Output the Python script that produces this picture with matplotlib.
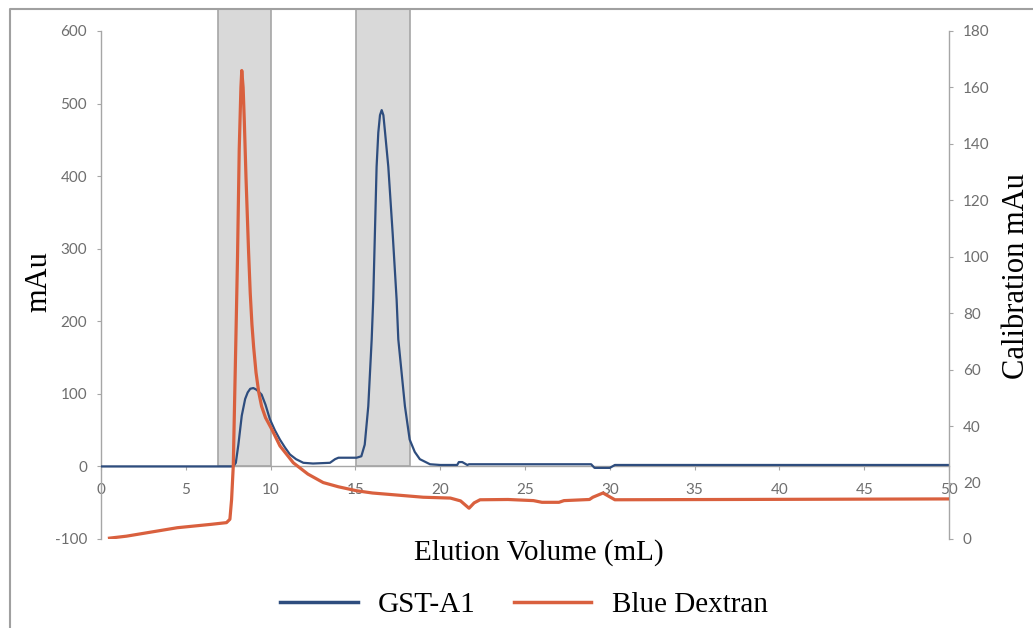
import matplotlib.pyplot as plt
from matplotlib.lines import Line2D

plt.rcParams["axes.unicode_minus"] = False

# GST-A1 (left axis, mAu)
gst_vol = [0, 7.8, 7.95, 8.1, 8.3, 8.5, 8.65, 8.8, 8.98, 9.15, 9.3, 9.47, 9.7,
           9.96, 10.25, 10.55, 10.85, 11.14, 11.5, 11.93, 12.5, 13.5, 13.8, 14.0,
           15.07, 15.35, 15.55, 15.76, 15.96, 16.05, 16.25, 16.35, 16.45, 16.55,
           16.65, 16.75, 16.94, 17.2, 17.43, 17.53, 17.92, 18.2, 18.5, 18.8,
           19.4, 20, 21.0, 21.1, 21.3, 21.6, 21.7, 22.5, 28.9, 29.1, 30.0,
           30.3, 50]
gst_mau = [0, 0, 5, 30, 70, 93, 102, 107, 108, 106, 103, 99, 85,
           65, 50, 37, 26, 16.5, 10, 5, 4, 5, 10, 12,
           12, 14, 30, 83, 175, 230, 413, 460, 484, 491,
           484, 460, 413, 320, 230, 175, 83, 37, 20, 10,
           3, 2, 2, 6, 6, 2, 3, 3, 3, -2, -2,
           2, 2]

# Blue Dextran (right axis, calibration mAu)
bd_vol = [0.5, 1.5, 2.5, 3.5, 4.5, 5.5, 6.5, 7.4, 7.6, 7.7, 7.8, 7.95, 8.05,
          8.15, 8.25, 8.3, 8.38, 8.45, 8.55, 8.7, 8.8, 8.9, 9.0, 9.14, 9.3,
          9.47, 9.7, 10.06, 10.55, 11.34, 12.2, 13.1, 14.0, 15.07, 16.0, 17.0,
          18.0, 19.0, 20.6, 21.2, 21.7, 22.0, 22.35, 24.0, 25.5, 26.0, 27.0,
          27.3, 28.8, 29.0, 29.6, 30.3, 50]
bd_mau = [0.3, 1.0, 2.0, 3.0, 4.0, 4.6, 5.2, 5.8, 7.0, 14, 26, 70, 100,
          138, 160, 166, 160, 148, 128, 102, 87, 76, 68, 59, 52,
          47, 43, 39, 33, 27, 23, 20, 18.5, 17.1, 16.3, 15.8,
          15.3, 14.8, 14.5, 13.5, 10.9, 12.8, 13.9, 14.0, 13.6, 13.0, 13.0,
          13.6, 14.0, 14.8, 16.3, 13.9, 14.2]

# collected fractions (shaded)
fractions = [(6.9, 10.05), (15.05, 18.2)]

blue = "#2e4d7e"
red = "#d9603e"
grey = "#a6a6a6"
tick_col = "#6e6e6e"
serif = "Liberation Serif"

fig = plt.figure(figsize=(10.33, 6.28), dpi=100)
ax = fig.add_axes([101 / 1033, 1 - 539 / 628, 848 / 1033, 508 / 628])
ax2 = ax.twinx()

ax.set_xlim(0, 50)
ax.set_ylim(-100, 600)
ax2.set_ylim(0, 180)

# shaded boxes go up past the axes top
y0 = 100 / 700
y1 = (539 - 9) / 508
for a, b in fractions:
    r = ax.axvspan(a, b, ymin=y0, ymax=y1, facecolor="#d9d9d9",
                   edgecolor=grey, linewidth=1.2, zorder=0)
    r.set_clip_on(False)

ax.plot(gst_vol, gst_mau, color=blue, lw=1.6, zorder=3)
ax2.plot(bd_vol, bd_mau, color=red, lw=2.3, zorder=3)

# spines
for s in ["top", "right"]:
    ax.spines[s].set_visible(False)
ax.spines["bottom"].set_position(("data", 0))
for s in ["top", "left", "bottom"]:
    ax2.spines[s].set_visible(False)
for sp in [ax.spines["left"], ax.spines["bottom"], ax2.spines["right"]]:
    sp.set_color(grey)
    sp.set_linewidth(1.0)

ax.set_xticks(range(0, 51, 5))
ax.set_yticks(range(-100, 601, 100))
ax2.set_yticks(range(0, 181, 20))

ax.tick_params(axis="x", length=3, width=0.8, color=grey, pad=9,
               labelsize=11, labelcolor=tick_col)
ax.tick_params(axis="y", length=3, width=0.8, color=grey, pad=7,
               labelsize=11, labelcolor=tick_col)
ax2.tick_params(axis="y", length=3, width=0.8, color=grey, pad=7,
                labelsize=11, labelcolor=tick_col)
for lab in ax.get_xticklabels() + ax.get_yticklabels() + ax2.get_yticklabels():
    lab.set_family("Lato")

# axis titles
fig.text(539 / 1033, 1 - 553 / 628, "Elution Volume (mL)", family=serif,
         fontsize=21, ha="center", va="center")
fig.text(39 / 1033, 1 - 282 / 628, "mAu", family=serif, fontsize=22,
         rotation=90, ha="center", va="center")
fig.text(1016 / 1033, 1 - 276 / 628, "Calibration mAu", family=serif,
         fontsize=22, rotation=90, ha="center", va="center")

# legend
handles = [Line2D([], [], color=blue, lw=2.5), Line2D([], [], color=red, lw=2.5)]
fig.legend(handles, ["GST-A1", "Blue Dextran"], loc="center",
           bbox_to_anchor=(524 / 1033, 1 - 605 / 628), ncol=2, frameon=False,
           prop={"family": serif, "size": 21}, handlelength=2.65,
           handletextpad=0.7, columnspacing=1.3, borderpad=0)

# outer frame
fig.add_artist(Line2D([10 / 1033, 10 / 1033, 1], [0, 1 - 9 / 628, 1 - 9 / 628],
                      transform=fig.transFigure, color="#a0a0a0", lw=1.5))

fig.savefig("out.png", dpi=100)
